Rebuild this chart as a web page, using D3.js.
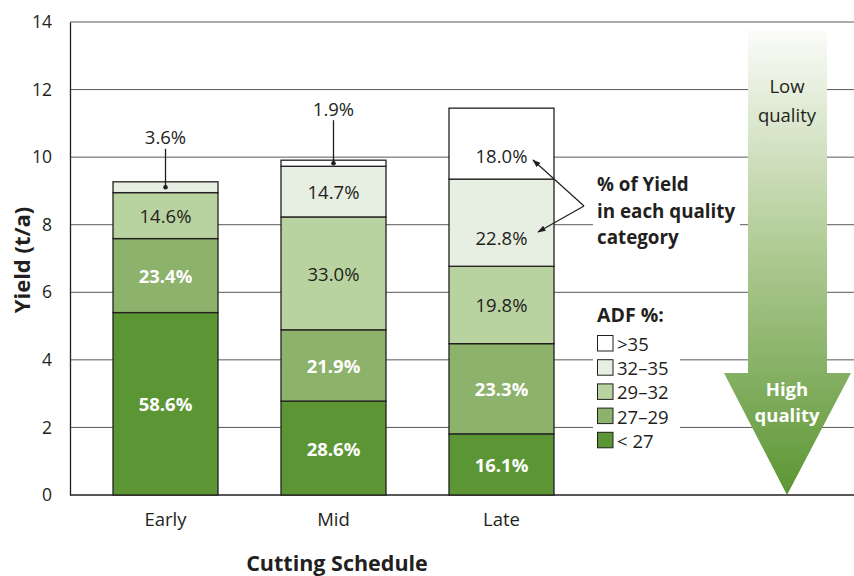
<!DOCTYPE html>
<html>
<head>
<meta charset="utf-8">
<script src="https://cdn.jsdelivr.net/npm/d3@7"></script>
<style>
  body { margin: 0; background: #fff; }
  svg { display: block; font-family: "Open Sans", "Noto Sans", sans-serif; }
</style>
</head>
<body>
<svg></svg>
<script>
// data
let categories = ['Early', 'Mid', 'Late']
let adfClasses = ['< 27', '27–29', '29–32', '32–35', '>35']

// yield (t/a) in each ADF class, per cutting
let yieldLt27 = [5.40, 2.78, 1.81]
let yield27to29 = [2.19, 2.11, 2.67]
let yield29to32 = [1.36, 3.34, 2.29]
let yield32to35 = [0.32, 1.50, 2.58]
let yieldGt35 = [0, 0.18, 2.10]

// % of yield labels
let pctLt27 = [58.6, 28.6, 16.1]
let pct27to29 = [23.4, 21.9, 23.3]
let pct29to32 = [14.6, 33.0, 19.8]
let pct32to35 = [3.6, 14.7, 22.8]
let pctGt35 = [null, 1.9, 18.0]

let yTicks = [0, 2, 4, 6, 8, 10, 12, 14]

let colors = ['#5c9634', '#8cb26b', '#b9d3a0', '#e7eee2', '#ffffff']
let labelColors = ['#fff', '#fff', '#231f20', '#231f20', '#231f20']
let labelWeights = ['bold', 'bold', 'normal', 'normal', 'normal']

let width = 854
let height = 576
let plotLeft = 70
let plotTop = 22
let plotBottom = 495

let svg = d3.select('svg').attr('width', width).attr('height', height)

let yieldSeries = [yieldLt27, yield27to29, yield29to32, yield32to35, yieldGt35]
let pctSeries = [pctLt27, pct27to29, pct29to32, pct32to35, pctGt35]

let rows = categories.map((c, i) => {
  let r = { cat: c }
  adfClasses.forEach((k, j) => { r[k] = yieldSeries[j][i] })
  return r
})
let stacked = d3.stack().keys(adfClasses)(rows)

let xScale = d3.scaleBand()
               .domain(categories)
               .range([plotLeft, 597])
               .paddingInner(0.375)
               .paddingOuter(0.256)

let yScale = d3.scaleLinear()
               .domain([0, 14])
               .range([plotBottom, plotTop])

// gridlines
svg.append('g')
   .selectAll('line')
   .data(yTicks.filter(d => d > 0))
   .enter()
   .append('line')
   .attr('x1', plotLeft)
   .attr('x2', width)
   .attr('y1', d => yScale(d))
   .attr('y2', d => yScale(d))
   .attr('stroke', '#58595b')
   .attr('stroke-width', 1)

// y axis
let yAxis = d3.axisLeft(yScale).tickValues(yTicks).tickSize(0).tickPadding(18)
let yg = svg.append('g')
   .attr('transform', 'translate(' + plotLeft + ',0)')
   .call(yAxis)
yg.select('.domain').attr('stroke', '#231f20').attr('stroke-width', 1.3)
yg.selectAll('text').attr('font-size', 17.5).attr('fill', '#231f20').attr('font-family', 'Open Sans')

// x axis
let xAxis = d3.axisBottom(xScale).tickSize(0).tickPadding(18)
let xg = svg.append('g')
   .attr('transform', 'translate(0,' + plotBottom + ')')
   .call(xAxis)
xg.select('.domain').attr('d', 'M' + plotLeft + ',0H' + width).attr('stroke', '#231f20').attr('stroke-width', 1.3)
xg.selectAll('text').attr('font-size', 18.5).attr('fill', '#231f20').attr('font-family', 'Open Sans')

// axis titles
svg.append('text')
   .attr('transform', 'translate(30,260) rotate(-90)')
   .attr('text-anchor', 'middle')
   .attr('font-size', 22)
   .attr('font-weight', 'bold')
   .attr('fill', '#231f20')
   .text('Yield (t/a)')

svg.append('text')
   .attr('x', 337)
   .attr('y', 571)
   .attr('text-anchor', 'middle')
   .attr('font-size', 21.5)
   .attr('font-weight', 'bold')
   .attr('fill', '#231f20')
   .text('Cutting Schedule')

// bars
let layers = svg.append('g')
   .selectAll('g')
   .data(stacked)
   .enter()
   .append('g')
   .attr('fill', (d, i) => colors[i])

layers.selectAll('rect')
   .data(d => d.filter(s => s[1] - s[0] > 0))
   .enter()
   .append('rect')
   .attr('x', s => xScale(s.data.cat))
   .attr('y', s => yScale(s[1]))
   .attr('width', xScale.bandwidth())
   .attr('height', s => yScale(s[0]) - yScale(s[1]))
   .attr('stroke', '#231f20')
   .attr('stroke-width', 1.3)

// labels inside segments (small ones get callouts)
let callout = { 'Early': 3, 'Mid': 4 }
let nudge = { 'Late-3': 15, 'Late-4': 12 }
let labels = svg.append('g')
stacked.forEach((layer, j) => {
  layer.forEach((s, i) => {
    let p = pctSeries[j][i]
    if (p == null) return
    let cat = categories[i]
    let cx = xScale(cat) + xScale.bandwidth() / 2
    let cy = (yScale(s[0]) + yScale(s[1])) / 2
    if (callout[cat] === j) {
      let ty = yScale(s[1]) - (cat === 'Early' ? 45 : 52)
      labels.append('line')
        .attr('x1', cx).attr('x2', cx)
        .attr('y1', ty + 12).attr('y2', cy)
        .attr('stroke', '#231f20').attr('stroke-width', 1.3)
      labels.append('circle')
        .attr('cx', cx).attr('cy', cy).attr('r', 2.3)
        .attr('fill', '#231f20')
      labels.append('text')
        .attr('x', cx).attr('y', ty)
        .attr('text-anchor', 'middle')
        .attr('dominant-baseline', 'central')
        .attr('font-size', 18.5)
        .attr('fill', '#231f20')
        .text(p.toFixed(1) + '%')
      return
    }
    labels.append('text')
      .attr('x', cx)
      .attr('y', cy + (nudge[cat + '-' + j] || 0))
      .attr('text-anchor', 'middle')
      .attr('dominant-baseline', 'central')
      .attr('font-size', 18.5)
      .attr('font-weight', labelWeights[j])
      .attr('fill', labelColors[j])
      .text(p.toFixed(1) + '%')
  })
})

// annotation: % of yield
let note = svg.append('g')
note.append('rect').attr('x', 593).attr('y', 172).attr('width', 147).attr('height', 78).attr('fill', '#fff')
;['% of Yield', 'in each quality', 'category'].forEach((t, i) => {
  note.append('text')
    .attr('x', 597).attr('y', 191 + i * 26.5)
    .attr('font-size', 18.8).attr('font-weight', 'bold').attr('fill', '#231f20')
    .text(t)
})
svg.append('defs').append('marker')
   .attr('id', 'ah')
   .attr('viewBox', '0 0 10 10')
   .attr('refX', 9).attr('refY', 5)
   .attr('markerWidth', 7).attr('markerHeight', 7)
   .attr('orient', 'auto')
   .append('path').attr('d', 'M0,1.5L10,5L0,8.5z').attr('fill', '#231f20')
note.append('line').attr('x1', 584).attr('y1', 206).attr('x2', 533).attr('y2', 160)
    .attr('stroke', '#231f20').attr('stroke-width', 1.2).attr('marker-end', 'url(#ah)')
note.append('line').attr('x1', 584).attr('y1', 206).attr('x2', 538).attr('y2', 232)
    .attr('stroke', '#231f20').attr('stroke-width', 1.2).attr('marker-end', 'url(#ah)')

// legend
let legend = svg.append('g')
legend.append('rect').attr('x', 593).attr('y', 298).attr('width', 87).attr('height', 160).attr('fill', '#fff')
legend.append('text')
   .attr('x', 597).attr('y', 322)
   .attr('font-size', 19.5).attr('font-weight', 'bold').attr('fill', '#231f20')
   .text('ADF %:')
let legendOrder = adfClasses.slice().reverse()
legendOrder.forEach((k, i) => {
  let j = adfClasses.indexOf(k)
  legend.append('rect')
    .attr('x', 597.5).attr('y', 335.5 + i * 24.2)
    .attr('width', 15.5).attr('height', 15.5)
    .attr('fill', colors[j]).attr('stroke', '#231f20').attr('stroke-width', 1)
  legend.append('text')
    .attr('x', 617).attr('y', 343.5 + i * 24.2)
    .attr('dominant-baseline', 'central')
    .attr('font-size', 18.5).attr('fill', '#231f20')
    .text(k)
})

// quality arrow
let grad = svg.select('defs').append('linearGradient')
   .attr('id', 'qg').attr('x1', 0).attr('y1', 0).attr('x2', 0).attr('y2', 1)
grad.append('stop').attr('offset', '0%').attr('stop-color', '#fbfcf9')
grad.append('stop').attr('offset', '45%').attr('stop-color', '#b3cd98')
grad.append('stop').attr('offset', '100%').attr('stop-color', '#5c9634')
let arrow = svg.append('g')
arrow.append('path')
   .attr('d', 'M748,30H827V373H851L787,495L724,373H748Z')
   .attr('fill', 'url(#qg)')
arrow.selectAll('text.low')
   .data(['Low', 'quality'])
   .enter()
   .append('text')
   .attr('x', 787).attr('y', (d, i) => 85 + i * 29)
   .attr('text-anchor', 'middle').attr('dominant-baseline', 'central')
   .attr('font-size', 18.5).attr('fill', '#231f20')
   .text(d => d)
arrow.selectAll('text.high')
   .data(['High', 'quality'])
   .enter()
   .append('text')
   .attr('x', 787).attr('y', (d, i) => 388 + i * 26)
   .attr('text-anchor', 'middle').attr('dominant-baseline', 'central')
   .attr('font-size', 18.5).attr('font-weight', 'bold').attr('fill', '#fff')
   .text(d => d)
</script>
</body>
</html>
